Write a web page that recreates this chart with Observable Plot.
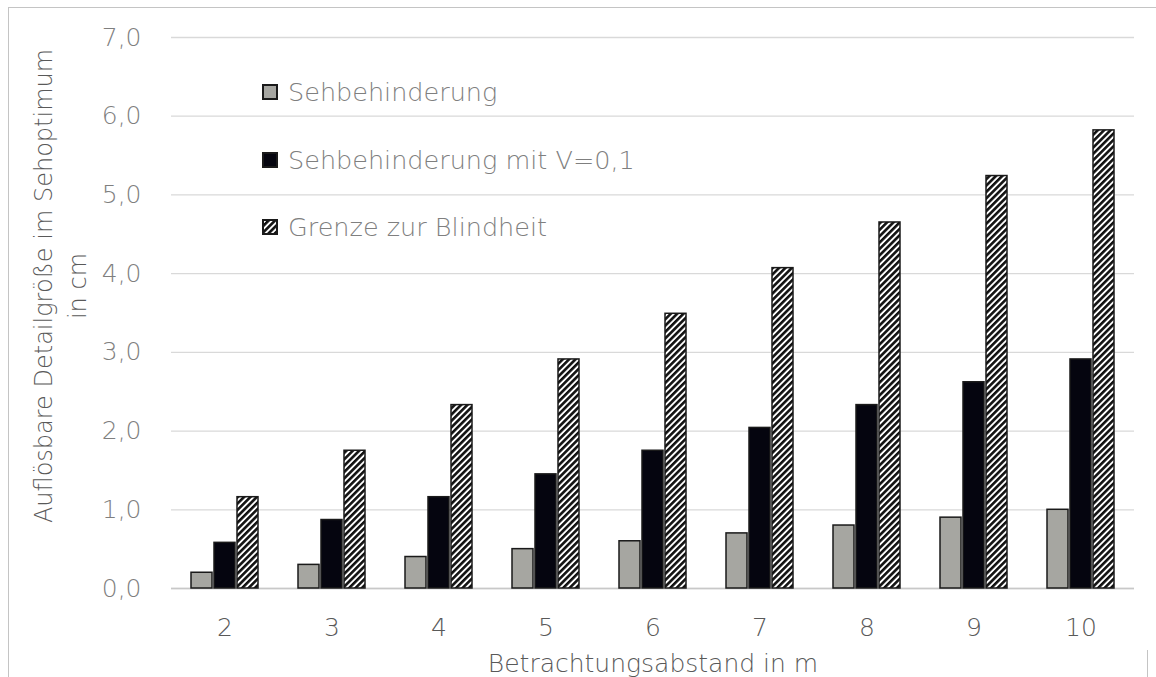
<!DOCTYPE html>
<html>
<head>
<meta charset="utf-8">
<script src="https://cdn.jsdelivr.net/npm/d3@7"></script>
<script src="https://cdn.jsdelivr.net/npm/@observablehq/plot@0.6"></script>
<style>
  body { margin: 0; background: #fff; }
  #wrap { position: relative; width: 1156px; height: 677px; overflow: hidden; font-family: "DejaVu Sans", sans-serif; font-weight: 200; }
  #frameTop { position: absolute; left: 8px; top: 7px; width: 1148px; height: 0; border-top: 1.5px solid #c4c4c4; }
  #frameLeft { position: absolute; left: 8px; top: 7px; width: 0; height: 670px; border-left: 1.5px solid #c4c4c4; }
  #frameRight { position: absolute; left: 1147px; top: 650px; width: 0; height: 27px; border-left: 1.5px solid #c4c4c4; }
  #legend { position: absolute; left: 262px; top: 0; }
  .item { position: absolute; left: 0; display: flex; align-items: center; white-space: nowrap; font-size: 25.5px; color: #7f7f7f; }
  .item svg { margin-right: 10px; }
</style>
</head>
<body>
<div id="wrap">
  <div id="frameTop"></div>
  <div id="frameLeft"></div>
  <div id="frameRight"></div>
  <div id="chart"></div>
  <div id="legend"></div>
</div>
<script>
const distances = [2, 3, 4, 5, 6, 7, 8, 9, 10];
const series = ["Sehbehinderung", "Sehbehinderung mit V=0,1", "Grenze zur Blindheit"];
const sehbehinderung = [0.2, 0.3, 0.4, 0.5, 0.6, 0.7, 0.8, 0.9, 1.0];
const sehbehinderungV01 = [0.58, 0.87, 1.16, 1.45, 1.75, 2.04, 2.33, 2.62, 2.91];
const grenzeBlindheit = [1.16, 1.75, 2.33, 2.91, 3.49, 4.07, 4.65, 5.24, 5.82];
const yTicks = [0, 1, 2, 3, 4, 5, 6, 7];
const xTitle = "Betrachtungsabstand in m";
const yTitle = "Auflösbare Detailgröße im Sehoptimum\nin cm";
const fills = ["#a6a6a1", "#05050f", "url(#hatch)"];

const values = [sehbehinderung, sehbehinderungV01, grenzeBlindheit];
const data = distances.flatMap((d, i) => series.map((s, j) => ({d, s, v: values[j][i]})));

const chart = Plot.plot({
  width: 1156,
  height: 677,
  marginLeft: 170,
  marginRight: 22,
  marginTop: 37,
  marginBottom: 89,
  style: {fontFamily: "'DejaVu Sans', sans-serif", fontWeight: 200, fontSize: "25px", color: "#7f7f7f", background: "transparent", overflow: "visible"},
  fx: {domain: distances, padding: 0},
  x: {domain: series, paddingInner: 0.1, paddingOuter: 0.83, axis: null},
  y: {domain: [0, 7]},
  color: {domain: series, range: fills},
  marks: [
    Plot.gridY(yTicks, {stroke: "#d9d9d9", strokeOpacity: 1, strokeWidth: 1.3}),
    Plot.axisY(yTicks, {tickSize: 0, tickPadding: 30, tickFormat: d => d.toFixed(1).replace(".", ","), label: null, fill: "#7f7f7f"}),
    Plot.axisFx({anchor: "bottom", tickSize: 0, tickPadding: 30, label: xTitle, labelAnchor: "center", labelOffset: 83, fill: "#595959"}),
    Plot.text([{d: distances[0], t: yTitle}], {fx: "d", text: "t", frameAnchor: "left", textAnchor: "middle", lineAnchor: "middle", rotate: -90, dx: -113, dy: -27, lineHeight: 1.4, fill: "#595959", fontSize: 24}),
    Plot.ruleY([0], {stroke: "#c8c8c8", strokeWidth: 1.5}),
    Plot.barY(data, {fx: "d", x: "s", y: "v", fill: "s", stroke: "#1a1a1a", strokeWidth: 1.5})
  ]
});

const defs = d3.create("svg:defs");
const pat = defs.append("pattern").attr("id", "hatch").attr("patternUnits", "userSpaceOnUse")
  .attr("width", 4.5).attr("height", 4.5).attr("patternTransform", "rotate(45)");
pat.append("rect").attr("width", 4.5).attr("height", 4.5).attr("fill", "#ffffff");
pat.append("rect").attr("width", 2.6).attr("height", 4.5).attr("fill", "#111111");
chart.insertBefore(defs.node(), chart.firstChild);
document.getElementById("chart").appendChild(chart);

// legend
const legendTops = [92, 160, 227];
const legend = d3.select("#legend");
series.forEach((s, j) => {
  const item = legend.append("div").attr("class", "item").style("top", (legendTops[j] - 15) + "px").style("height", "30px");
  const sw = item.append("svg").attr("width", 16).attr("height", 16);
  if (j === 2) {
    const ld = sw.append("defs").append("pattern").attr("id", "hatchL").attr("patternUnits", "userSpaceOnUse")
      .attr("width", 4.5).attr("height", 4.5).attr("patternTransform", "rotate(45)");
    ld.append("rect").attr("width", 4.5).attr("height", 4.5).attr("fill", "#fff");
    ld.append("rect").attr("width", 2.6).attr("height", 4.5).attr("fill", "#111");
  }
  sw.append("rect").attr("x", 1).attr("y", 1).attr("width", 14).attr("height", 14)
    .attr("fill", j === 2 ? "url(#hatchL)" : fills[j]).attr("stroke", "#1a1a1a").attr("stroke-width", 2);
  item.append("span").text(s);
});
</script>
</body>
</html>
